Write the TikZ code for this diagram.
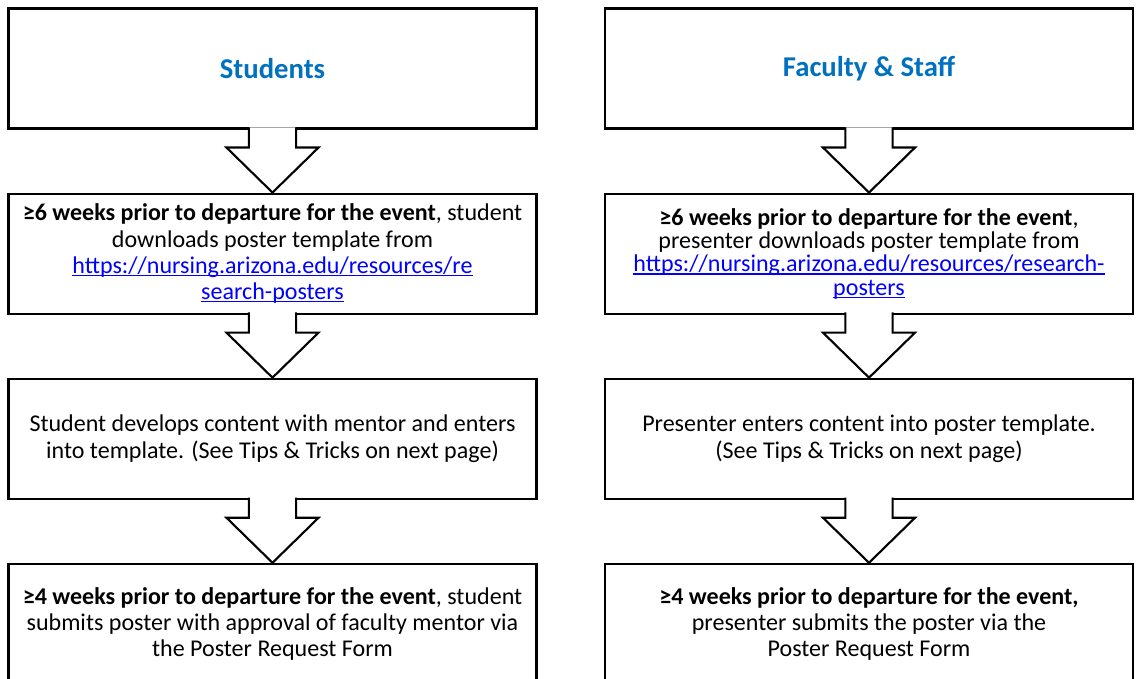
\documentclass[tikz,border=0pt]{standalone}
\usepackage{fontspec}
\setmainfont{Carlito}
\usepackage{tikz}
\usetikzlibrary{positioning,calc}

\definecolor{titleblue}{RGB}{0,112,192}
\definecolor{linkblue}{RGB}{0,0,255}
% underlined link text, rule through the descenders as in the original
\newcommand{\lnk}[1]{{\color{linkblue}\setbox0\hbox{#1}\rlap{\copy0}\rule[-2pt]{\wd0}{0.8pt}}}

\begin{document}
\begin{tikzpicture}[
      box/.style={draw=black,line width=1.5pt,minimum width=13.2cm,minimum height=3cm,inner sep=0pt,align=center,font=\fontsize{17.1}{18.6}\selectfont},
      head/.style={box,font=\fontsize{20.4}{24}\selectfont\bfseries,text=titleblue},
      flow/.style={draw=black,fill=white,line width=1.5pt,line join=miter},
      >=latex
    ]
    \useasboundingbox (0,0) rectangle (28.45,-16.975);

    % Students column
    \node[head] (S1) at (6.8125,-1.7125) {Students};
    \node[box,below=1.575cm of S1] (S2)
      {\textbf{≥6 weeks prior to departure for the event}, student\\
       downloads poster template from\\
       \lnk{https://nursing.arizona.edu/resources/re}\\
       \lnk{search-posters}};
    \node[box,below=1.575cm of S2] (S3)
      {Student develops content with mentor and enters\\
       into template. (See Tips \& Tricks on next page)};
    \node[box,below=1.575cm of S3] (S4)
      {\textbf{≥4 weeks prior to departure for the event}, student\\
       submits poster with approval of faculty mentor via\\
       the Poster Request Form};

    % Faculty & Staff column
    \node[head] (F1) at (21.725,-1.7125) {Faculty \& Staff};
    \node[box,below=1.575cm of F1,font=\fontsize{17.1}{16.6}\selectfont] (F2)
      {\textbf{≥6 weeks prior to departure for the event},\\
       presenter downloads poster template from\\
       \lnk{https://nursing.arizona.edu/resources/research-}\\
       \lnk{posters}};
    \node[box,below=1.575cm of F2] (F3)
      {Presenter enters content into poster template.\\
       (See Tips \& Tricks on next page)};
    \node[box,below=1.575cm of F3] (F4)
      {\textbf{≥4 weeks prior to departure for the event,}\\
       presenter submits the poster via the\\
       Poster Request Form};

    % block arrows, left open at the top so they cut into the box above
    \foreach \a/\b in {S1/S2,S2/S3,S3/S4,F1/F2,F2/F3,F3/F4}
      \path[flow] ([xshift=-5.9mm,yshift=1.6pt]\a.south) -- ([xshift=-5.9mm,yshift=-4.5mm]\a.south)
        -- ([xshift=-11.5mm,yshift=-4.5mm]\a.south) -- (\b.north)
        -- ([xshift=11.5mm,yshift=-4.5mm]\a.south) -- ([xshift=5.9mm,yshift=-4.5mm]\a.south)
        -- ([xshift=5.9mm,yshift=1.6pt]\a.south);

  \end{tikzpicture}
\end{document}
